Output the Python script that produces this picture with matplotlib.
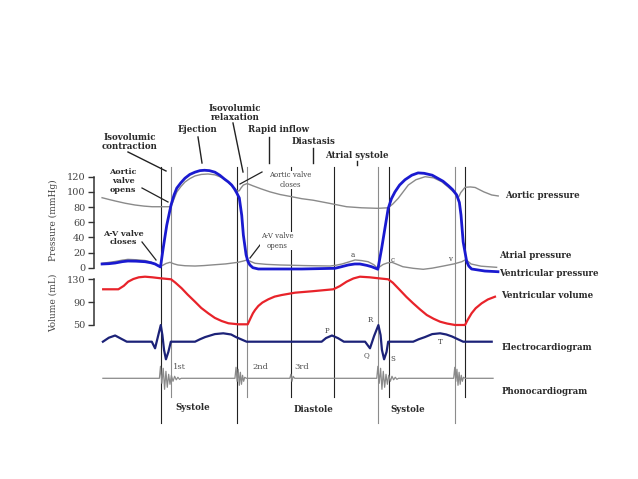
"""
Wiggers diagram: pressures, volume, ECG and heart sounds over two beats.
"""

import matplotlib.pyplot as plt

plt.rcParams['font.family'] = 'DejaVu Serif'

# time in ms, t = 0 where the A-V valve closes on the first beat
events = [0, 40, 280, 320, 480, 640, 800, 840, 1085, 1120]
event_colors = ['#222222', '#8c8c8c', '#222222', '#8c8c8c', '#222222',
                '#222222', '#8c8c8c', '#222222', '#8c8c8c', '#222222']
long_events = [0, 280, 800, 1085]

# ventricular pressure (mmHg)
vent_t = [-215, -190, -167, -140, -120, -90, -57, -35, -20, -8, 0, 10, 23,
          39, 50, 60, 75, 90, 108, 127, 145, 162, 180, 200, 218, 235, 250,
          262, 272, 280, 290, 299, 305, 315, 322, 329, 340, 360, 520, 642,
          665, 691, 715, 734, 760, 777, 800, 814, 826, 838, 850, 863, 880,
          900, 925, 948, 970, 1000, 1020, 1040, 1060, 1075, 1090, 1100, 1106,
          1114, 1127, 1135, 1145, 1194, 1242]
vent_p = [4.9, 5.3, 6.2, 8.0, 8.8, 8.6, 7.9, 6.5, 4.9, 2.5, 1.0, 26, 56, 83,
          96, 105, 112, 118, 123, 126, 128, 128.5, 128, 126, 122, 117, 113,
          109, 104, 99, 92, 69, 43, 17, 8, 3.6, 0, -1.7, -1.7, -0.8, 1.2,
          3.6, 4.9, 4.9, 3.0, 1.3, -2.0, 25.6, 52, 78, 91, 100, 109, 116,
          122, 125, 124.5, 122, 118, 114, 108, 103, 96, 86, 69.5, 34, 8, 2,
          -1.7, -4.4, -5.3]

# aortic pressure (mmHg)
aortic_t = [-215, -190, -167, -130, -94, -60, -31, 0, 39, 50, 60, 75, 90,
            108, 127, 150, 175, 200, 225, 245, 262, 275, 283, 290, 296, 305,
            319, 340, 370, 403, 440, 483, 520, 562, 620, 685, 740, 799, 838,
            855, 875, 893, 912, 940, 974, 1005, 1035, 1060, 1084, 1092, 1097,
            1105, 1121, 1140, 1158, 1190, 1219, 1243]
aortic_p = [92.3, 90, 88, 85, 82.7, 81.2, 80.4, 80.4, 80.4, 91, 99.8, 107,
            113, 117.5, 121, 123, 123.6, 122.5, 119, 114, 108.4, 104, 101,
            101.5, 105, 109, 111, 108, 104, 100, 96.5, 93.6, 91, 89, 85,
            80.4, 79, 78.3, 79, 84, 91.5, 100, 109, 116, 120, 118.5, 113.4,
            106, 98, 94, 93, 99, 106, 106.5, 105.8, 100, 95.9, 94.6]

# atrial pressure (mmHg)
atrial_t = [-215, -190, -167, -140, -120, -90, -57, -35, -20, 0, 10, 20, 35,
            50, 64, 90, 127, 160, 188, 240, 285, 305, 318, 333, 348, 390,
            440, 530, 624, 645, 668, 695, 716, 740, 764, 785, 799, 810, 819,
            835, 852, 870, 892, 930, 967, 1000, 1041, 1080, 1109, 1124, 1133,
            1143, 1180, 1237]
atrial_p = [5.8, 7.0, 8.2, 10, 11, 10.5, 9.5, 7.5, 4.9, 1.6, 3.5, 5.5, 7.1,
            5.0, 3.6, 2.6, 2.2, 2.8, 3.6, 5.0, 7.1, 8.8, 10.2, 8.0, 5.8, 4.4,
            3.6, 2.8, 2.2, 3.2, 4.9, 7.8, 10.2, 9.4, 7.9, 4.0, -0.8, 2.0, 4.2,
            6.3, 7.1, 4.5, 1.3, -0.8, -2.1, -0.6, 2.2, 5.0, 7.9, 10.8, 8.0,
            4.9, 2.0, 0.5]

# ventricular volume (mL)
volume_t = [-211, -155, -135, -119, -100, -80, -57, -30, 0, 39, 55, 78, 100,
            127, 150, 176, 200, 225, 250, 286, 321, 330, 340, 348, 360, 375,
            397, 420, 446, 495, 560, 636, 660, 685, 710, 734, 770, 802, 838,
            855, 881, 905, 930, 955, 980, 1005, 1029, 1055, 1084, 1121, 1130,
            1145, 1160, 1182, 1205, 1231]
volume_ml = [112.4, 112.4, 118.5, 125.8, 130.5, 133.5, 134.6, 133.5, 131.8,
             130, 124, 114.1, 103, 90.5, 79.5, 70, 62, 56.5, 52.5, 50.7, 50.7,
             60, 70, 75.9, 83, 89, 94.8, 99.5, 102.3, 106.4, 109, 112.4, 118,
             125.8, 131.5, 134.6, 133.5, 131.8, 130, 124, 111.1, 99, 87.7, 77,
             67.1, 60.5, 55.3, 52, 49.5, 49.5, 58, 70.1, 79, 87.7, 94.5, 99.3]

# electrocardiogram (mV)
ecg_t = [-212, -190, -167, -145, -124, -32, -20, -9, 1, 7, 13, 20, 29, 38,
         127, 145, 164, 200, 231, 260, 278, 300, 317, 593, 609, 631, 653, 675,
         753, 771, 786, 802, 810, 815, 823, 832, 838, 930, 950, 973, 1000,
         1029, 1052, 1073, 1095, 1114, 1219]
ecg_mv = [0, 0.2, 0.31, 0.15, 0, 0, -0.33, 0.28, 0.83, 0.33, -0.41, -0.88,
          -0.51, 0, 0, 0.12, 0.23, 0.38, 0.42, 0.36, 0.23, 0.1, 0, 0, 0.18,
          0.31, 0.18, 0, 0, -0.33, 0.28, 0.83, 0.33, -0.41, -0.88, -0.51, 0,
          0, 0.12, 0.23, 0.38, 0.42, 0.36, 0.26, 0.12, 0, 0]

# phonocardiogram (arbitrary units)
phono_t = [-212, -4, 0, 5, 10, 15, 20, 25, 30, 35, 40, 46, 52, 58, 64, 70, 76,
           274, 278, 282, 286, 290, 294, 298, 302, 306, 310, 316,
           476, 480, 484, 488, 494,
           796, 800, 805, 810, 815, 820, 825, 830, 835, 840, 846, 852, 858,
           864, 870, 876,
           1079, 1083, 1087, 1091, 1095, 1099, 1103, 1107, 1111, 1115, 1121,
           1224]
phono_v = [0, 0, 1.2, -0.5, 1.0, -1.1, 0.7, -0.9, 0.4, -0.6, 0.3, -0.3, 0.2,
           -0.15, 0.1, -0.1, 0,
           0, 1.1, -0.3, 0.9, -0.7, 0.6, -0.6, 0.3, -0.3, 0.1, 0,
           0, 0.4, -0.3, 0.2, 0,
           0, 1.2, -0.5, 1.0, -1.1, 0.7, -0.9, 0.4, -0.6, 0.3, -0.3, 0.2,
           -0.15, 0.1, -0.1, 0,
           0, 1.1, -0.3, 0.9, -0.7, 0.6, -0.6, 0.3, -0.3, 0.1, 0,
           0]

pressure_ticks = [0, 20, 40, 60, 80, 100, 120]
volume_ticks = [50, 90, 130]

W, H = 638, 479
PX_PER_MS = 0.2717
T0_PX = 160.5
AXIS_T = -245

fig = plt.figure(figsize=(W / 100, H / 100), dpi=100)


def layer(name, v0, row0, px_per_unit):
    # transparent full-figure axes, value v0 sits on pixel row row0
    ax = fig.add_axes([0, 0, 1, 1], label=name)
    ax.set_xlim(-T0_PX / PX_PER_MS, (W - T0_PX) / PX_PER_MS)
    ax.set_ylim(v0 - (H - row0) / px_per_unit, v0 + row0 / px_per_unit)
    ax.patch.set_alpha(0)
    for s in ax.spines.values():
        s.set_visible(False)
    ax.set_xticks([])
    ax.set_yticks([])
    return ax


def left_axis(ax, ticks):
    sp = ax.spines['left']
    sp.set_visible(True)
    sp.set_position(('data', AXIS_T))
    sp.set_bounds(ticks[0], ticks[-1])
    sp.set_color('#333333')
    sp.set_linewidth(1.1)
    ax.set_yticks(ticks)
    ax.tick_params(axis='y', direction='out', length=4, width=1.0,
                   color='#333333', labelsize=7, labelcolor='#444444', pad=2)


ax_p = layer('pressure', 0, 267.7, 0.7583)
ax_v = layer('volume', 130, 279.3, 0.5675)
ax_e = layer('ecg', 0, 341.7, 20)
ax_s = layer('phono', 0, 378.3, 10)
ov = fig.add_axes([0, 0, 1, 1], label='overlay')
ov.set_xlim(0, W)
ov.set_ylim(H, 0)
ov.axis('off')

left_axis(ax_p, pressure_ticks)
left_axis(ax_v, volume_ticks)

# event lines
for t, c in zip(events, event_colors):
    bottom = 423 if t in long_events else 397
    ax_p.axvline(t, ymin=1 - bottom / H, ymax=1 - 167 / H, color=c, lw=0.8,
                 zorder=1)

ax_p.plot(aortic_t, aortic_p, color='#8a8a8a', lw=1.0, zorder=2)
ax_p.plot(atrial_t, atrial_p, color='#8a8a8a', lw=1.0, zorder=2)
ax_p.plot(vent_t, vent_p, color='#1a1ad0', lw=2.0, zorder=3,
          solid_joinstyle='round')
ax_v.plot(volume_t, volume_ml, color='#e8232a', lw=1.6, zorder=3,
          solid_joinstyle='round')
ax_e.plot(ecg_t, ecg_mv, color='#1c2278', lw=1.6, zorder=3,
          solid_joinstyle='round')
ax_s.plot(phono_t, phono_v, color='#8a8a8a', lw=0.9, zorder=3)

txt = dict(family='DejaVu Serif', color='#2a2a2a', fontweight='bold')

# axis titles
ov.text(53, 220, 'Pressure (mmHg)', rotation=90, ha='center', va='center',
        fontsize=6.5, color='#444444')
ov.text(53, 303, 'Volume (mL)', rotation=90, ha='center', va='center',
        fontsize=6.5, color='#444444')

# phase labels with leaders
phases = [('Isovolumic\ncontraction', 130, 142, (128, 152), (166, 171)),
          ('Ejection', 197, 130, (198, 137), (202, 163)),
          ('Isovolumic\nrelaxation', 235, 113, (233, 123), (243, 172)),
          ('Rapid inflow', 278, 130, (269, 137), (269, 163)),
          ('Diastasis', 313, 142, (313, 148), (313, 163)),
          ('Atrial systole', 357, 155, (357, 161), (357, 165))]
for label, x, y, a, b in phases:
    ov.text(x, y, label, ha='center', va='center', fontsize=6.2,
            linespacing=1.05, **txt)
    ov.plot([a[0], b[0]], [a[1], b[1]], color='#222222', lw=1.0)

# valve notes
ov.text(123, 181, 'Aortic\nvalve\nopens', ha='center', va='center',
        fontsize=5.8, linespacing=1.1, **txt)
ov.plot([142, 168], [188, 202], color='#222222', lw=0.9)
ov.text(123, 238, 'A-V valve\ncloses', ha='center', va='center',
        fontsize=5.8, linespacing=1.1, **txt)
ov.plot([142, 156], [242, 260], color='#222222', lw=0.9)
ov.text(290, 180, 'Aortic valve\ncloses', ha='center', va='center',
        fontsize=5, linespacing=1.2, color='#444444',
        bbox=dict(facecolor='white', edgecolor='none', pad=0.5))
ov.plot([262, 240], [172, 184], color='#222222', lw=0.9)
ov.text(277, 241, 'A-V valve\nopens', ha='center', va='center',
        fontsize=5, linespacing=1.2, color='#444444',
        bbox=dict(facecolor='white', edgecolor='none', pad=0.5))
ov.plot([260, 250], [245, 258], color='#222222', lw=0.9)

# wave letters
small = dict(ha='center', va='center', fontsize=5, color='#444444')
for label, x, y in [('a', 353, 255), ('c', 393, 260), ('v', 450, 259),
                    ('P', 327, 331), ('R', 370, 320), ('Q', 367, 355),
                    ('S', 393, 359), ('T', 440, 342)]:
    ov.text(x, y, label, **small)

for label, x in [('1st', 173), ('2nd', 252), ('3rd', 294)]:
    ov.text(x, 367, label, ha='left', va='center', fontsize=6,
            color='#555555')

for label, x, y in [('Systole', 193, 407), ('Diastole', 313, 409),
                    ('Systole', 408, 409)]:
    ov.text(x, y, label, ha='center', va='center', fontsize=6.2, **txt)

# trace names
for label, x, y in [('Aortic pressure', 505, 196),
                    ('Atrial pressure', 499, 256),
                    ('Ventricular pressure', 499, 273),
                    ('Ventricular volume', 501, 296),
                    ('Electrocardiogram', 502, 348),
                    ('Phonocardiogram', 502, 392)]:
    ov.text(x, y, label, ha='left', va='center', fontsize=6.2, **txt)

fig.savefig('out.png', dpi=100)
